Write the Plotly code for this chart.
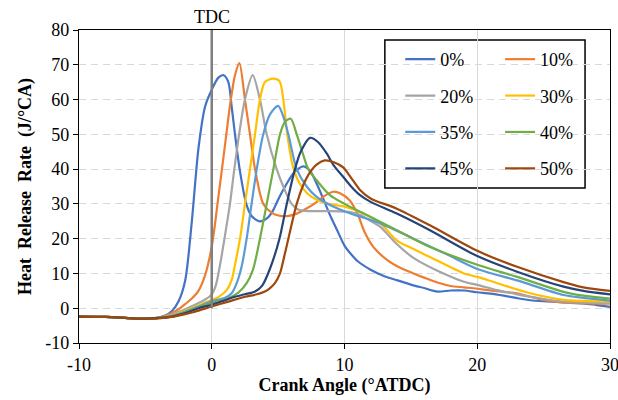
import plotly.graph_objects as go

# ---- data ----
series_names = ["0%", "10%", "20%", "30%", "35%", "40%", "45%", "50%"]
series_colors = ["#4472C4", "#ED7D31", "#A5A5A5", "#FFC000", "#5B9BD5", "#70AD47", "#264478", "#9E480E"]

ca_0 = [-10,-8,-6,-5,-4,-3.5,-3,-2.5,-2,-1.5,-1,-0.5,0,0.5,0.9,1.25,1.5,1.75,2.1,2.6,3,3.6,4.2,4.6,5.1,5.6,6.2,6.9,7.4,8,8.5,9,9.5,10,10.5,11,12,13,14,15,16,17,18,19,20,21,22,23,24,25,26,27,28,29,30]
hrr_0 = [-2.4,-2.5,-2.9,-3.0,-2.7,-2.1,-0.8,2,8,25,46,58,62.8,66.3,67,65,58,50,40,30,26.5,25,26,28,32,35.5,39,40.8,39.5,35,30.5,26,22,18,15.5,13.5,11,9.2,8,6.8,5.8,4.8,5.1,5.1,4.6,4.2,3.6,2.9,2.3,2,1.8,1.6,1.4,0.9,0.4]

ca_10 = [-10,-8,-6,-5,-4,-3,-2.5,-2,-1.5,-1,-0.5,0,0.5,1,1.4,1.75,2.08,2.5,2.88,3.26,3.88,4.5,5.1,5.7,6.4,7.2,7.9,8.5,9.16,9.7,10.4,11,11.5,12.2,13.2,14,15.2,16,17,18,19,20,21,22,23,24,25,26,27,28,29,30]
hrr_10 = [-2.4,-2.5,-2.9,-3.0,-2.8,-1.4,-0.3,1.2,2.8,5,9.5,17.7,32,47,59,67,70.5,60,50,40,30,27.5,26.6,26.5,27.2,28.8,30.5,32.3,33.5,33,31,27,22,17.5,13.9,12,10,8.8,7.4,6.4,6,5.6,5.1,4.7,4.3,3.3,2.4,1.8,1.5,1.4,1.3,1.3]

ca_20 = [-10,-8,-6,-5,-4,-3,-2,-1,-0.5,0,0.3,0.65,1,1.37,1.7,2.1,2.5,3.08,3.63,4.14,4.89,5.5,6.02,6.5,7,8,9,10,10.5,11.2,12,12.7,13.9,15,15.9,17,19,20,21.5,23,24,25,26.5,28,30]
hrr_20 = [-2.4,-2.5,-2.9,-3.0,-2.8,-1.8,-0.3,1.5,2.5,4,6.5,13,21,30,40,51,60,67,60,50,40,34,30,28.4,28,27.9,27.9,27.8,27.6,26.8,25,23.4,18.6,15,12.9,10.8,7.6,6.7,5.2,4,3.3,2.6,1.9,1.6,1.5]

ca_30 = [-10,-8,-6,-5,-4,-3,-2,-1,0,0.5,1.12,1.5,1.75,2.13,2.5,2.88,3.26,3.63,4.0,4.6,5.1,5.39,5.69,6.1,6.6,7.2,8,9.2,10,11.4,12.7,13.9,15.2,16.4,19,20,21.5,24,26.5,28,30]
hrr_30 = [-2.4,-2.5,-2.9,-3.0,-2.8,-2.1,-0.8,0.8,2.4,3.2,5.2,8.1,12.5,20,30,40,50,60,65,66,65.3,60,50,41,36,33,31,29.7,29.2,27.3,24.5,19.6,17,14.8,10,9,7.2,4.3,2.4,2.1,1.9]

ca_35 = [-10,-8,-6,-5,-4,-3,-2,-1,0,1,1.5,1.88,2.25,2.63,3.0,3.39,3.88,4.4,5.0,5.4,5.77,6.4,7.15,7.9,8.9,10.4,12.7,15.2,17.7,20,23,26.5,28,30]
hrr_35 = [-2.4,-2.5,-2.9,-3.0,-2.8,-2.2,-1,0.5,2,3,4.3,7.2,12,20,30,40,50,55.8,58.2,55,50,40,35,32,29.7,27.3,24.4,20,15.5,11.3,8,3.8,3,2.2]

ca_40 = [-10,-8,-6,-5,-4,-3,-2,-1,0,1,2,2.63,3.1,3.63,4.14,4.64,5.14,5.5,5.95,6.4,6.9,7.27,7.9,8.9,10,11.4,13.9,16.4,20,23,26.5,28,30]
hrr_40 = [-2.4,-2.5,-2.9,-3.0,-2.8,-2.3,-1.2,0.3,1.5,2.5,4.5,7.2,11,20,30,40,50,53.5,54.5,50,44,40,36.8,32.5,30,27.3,22.5,17.7,12.5,9,4.7,3.6,2.8]

ca_45 = [-10,-8,-6,-5,-4,-3,-2,-1,0,1,1.75,2.5,3.26,3.8,4.4,5.1,5.65,6.27,6.7,7.4,8,8.66,9.2,9.9,10.5,11.17,12,13.9,16.4,20,23,26.5,28,30]
hrr_45 = [-2.4,-2.5,-2.9,-3.0,-2.8,-2.4,-1.4,0,1,2.3,3.3,4,4.8,6.5,11.5,20,30,40,45,49,47.8,44.5,41,37.8,35,32.5,30.5,27.3,22.5,15,10.5,6.2,5,4]

ca_50 = [-10,-8,-6,-5,-4,-3,-2,-1.26,0,1.25,2.5,3.4,4,4.39,4.76,5.14,5.4,5.77,6.4,6.9,7.3,7.9,8.5,9.2,9.9,10.5,11.17,12,13.9,16.4,20,23,26.5,28,30]
hrr_50 = [-2.4,-2.5,-2.9,-3.0,-2.9,-2.5,-1.7,-1,0.5,1.9,3.3,4,4.8,5.8,7.2,10,13.9,20,30,35.5,38.5,41.3,42.5,42,40.5,37.5,34,31.5,28.7,23.9,16.5,11.9,7.5,6,5]

crank_angles = [ca_0, ca_10, ca_20, ca_30, ca_35, ca_40, ca_45, ca_50]
hrr_values = [hrr_0, hrr_10, hrr_20, hrr_30, hrr_35, hrr_40, hrr_45, hrr_50]

x_ticks = [-10, 0, 10, 20, 30]
x_tick_labels = ["-10", "0", "10", "20", "30"]
y_ticks = [-10, 0, 10, 20, 30, 40, 50, 60, 70, 80]
y_tick_labels = ["-10", "0", "10", "20", "30", "40", "50", "60", "70", "80"]
tdc_angle = 0

FONT = "Times New Roman, Liberation Serif, serif"

fig = go.Figure()
left_col = ["0%", "20%", "35%", "45%"]
for name, color, xs, ys in zip(series_names, series_colors, crank_angles, hrr_values):
    fig.add_trace(go.Scatter(
        x=xs, y=ys, name=name, mode="lines",
        line=dict(color=color, width=2.2, shape="spline", smoothing=0.8),
        legend="legend" if name in left_col else "legend2",
        legendgroup=name,
    ))

# TDC marker line
fig.add_shape(type="line", xref="x", yref="y", x0=tdc_angle, x1=tdc_angle, y0=0, y1=80,
              line=dict(color="#7F7F7F", width=2.5), layer="above")
fig.add_annotation(x=tdc_angle, y=80, xref="x", yref="y", text="TDC", showarrow=False,
                   yanchor="bottom", yshift=1, font=dict(family=FONT, size=18, color="black"))

# legend box
fig.add_shape(type="rect", xref="paper", yref="paper", x0=0.576, x1=0.953, y0=0.495, y1=0.968,
              line=dict(color="black", width=1.5), fillcolor="white", layer="between")

legend_common = dict(bgcolor="rgba(0,0,0,0)", borderwidth=0, tracegroupgap=10,
                     font=dict(family=FONT, size=18, color="black"),
                     xanchor="left", yanchor="top", itemwidth=30)
fig.update_layout(
    width=618, height=400,
    margin=dict(l=79, r=8, t=30, b=57, autoexpand=False),
    paper_bgcolor="white", plot_bgcolor="white",
    font=dict(family=FONT, size=18, color="black"),
    legend=dict(x=0.605, y=0.965, **legend_common),
    legend2=dict(x=0.793, y=0.965, **legend_common),
    xaxis=dict(range=[-10, 30], tickvals=x_ticks, ticktext=x_tick_labels,
               ticklabeloverflow="allow", automargin=False,
               showgrid=True, gridcolor="#D9D9D9", gridwidth=1,
               zeroline=False, showline=True, linecolor="black", linewidth=1.3, mirror=True,
               ticks="outside", ticklen=5, tickcolor="black",
               tickfont=dict(family=FONT, size=18),
               title=dict(text="<b>Crank Angle (°ATDC)</b>", font=dict(family=FONT, size=18), standoff=2)),
    yaxis=dict(range=[-10, 80], tickvals=y_ticks, ticktext=y_tick_labels,
               ticklabeloverflow="allow", automargin=False,
               showgrid=True, gridcolor="#D9D9D9", gridwidth=1,
               griddash="7px,5px",
               zeroline=False, showline=True, linecolor="black", linewidth=1.3, mirror=True,
               ticks="outside", ticklen=5, tickcolor="black",
               tickfont=dict(family=FONT, size=18),
               title=dict(text="<b>Heat  Release  Rate  (J/°CA)</b>", font=dict(family=FONT, size=18), standoff=8)),
)

fig.write_html("out.html", config={"displayModeBar": False},
               post_script="document.body.style.margin='0';")
